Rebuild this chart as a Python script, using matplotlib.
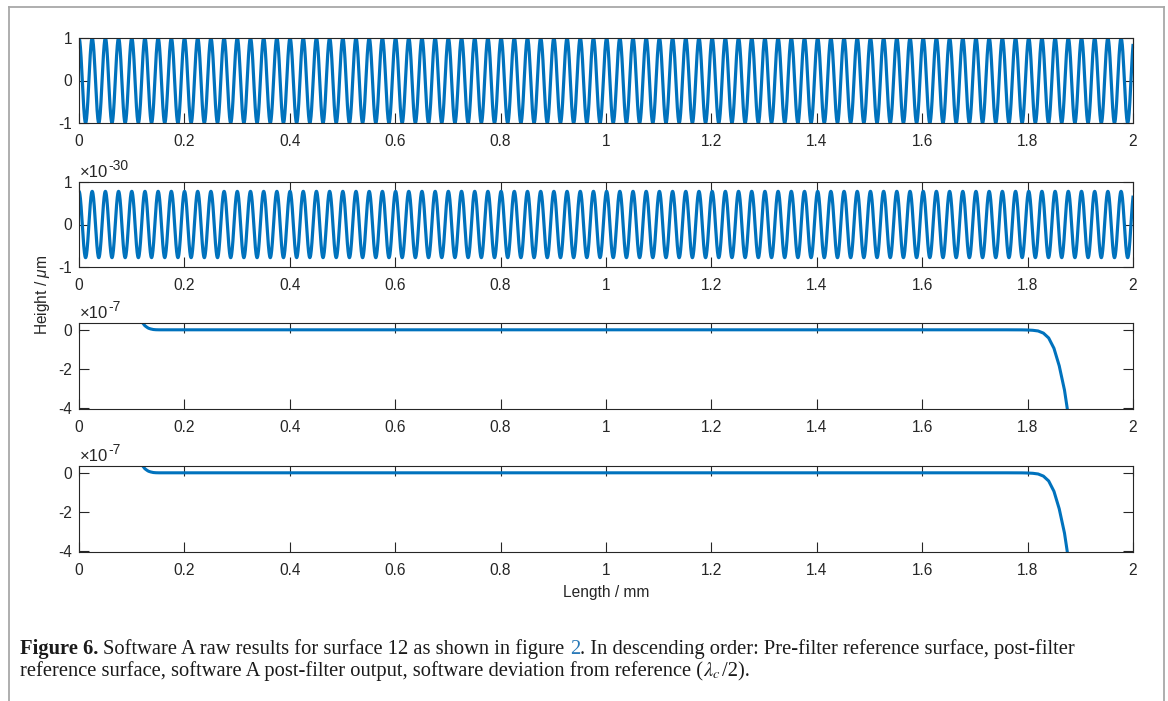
import numpy as np
import matplotlib
matplotlib.use("Agg")
import matplotlib.pyplot as plt
from matplotlib.lines import Line2D

plt.rcParams['font.family'] = ['Liberation Sans', 'DejaVu Sans']
plt.rcParams['axes.unicode_minus'] = False
plt.rcParams['mathtext.fontset'] = 'custom'
plt.rcParams['mathtext.rm'] = 'Liberation Sans'
plt.rcParams['mathtext.it'] = 'Liberation Sans:italic'
plt.rcParams['mathtext.bf'] = 'Liberation Sans:bold'

# ---------------- data ----------------
# reference surface (sinusoid) parameters
length_mm = 2.0
wavelength_mm = 0.02503
pre_filter_amplitude = 1.0          # um
post_filter_amplitude = 0.78e-30    # um

# software A post-filter output (um)
output_x = [0.110, 0.116, 0.121, 0.125, 0.129, 0.132, 0.136, 0.141, 0.146, 0.152, 0.160,
            0.200, 0.600, 1.000, 1.400, 1.760, 1.790, 1.800, 1.810, 1.820, 1.830,
            1.840, 1.850, 1.860, 1.870, 1.875, 1.880, 1.890]
output_y = [0.90e-7, 0.55e-7, 0.35e-7, 0.21e-7, 0.13e-7, 0.08e-7, 0.045e-7, 0.015e-7, 0.004e-7, 0.0, 0.0,
            0.0, 0.0, 0.0, 0.0, 0.0, -0.003e-7, -0.01e-7, -0.025e-7, -0.06e-7, -0.17e-7,
            -0.42e-7, -0.95e-7, -1.85e-7, -3.10e-7, -4.00e-7, -5.00e-7, -7.0e-7]
# software deviation from reference (um)
deviation_x = list(output_x)
deviation_y = list(output_y)

xticks = [0, 0.2, 0.4, 0.6, 0.8, 1, 1.2, 1.4, 1.6, 1.8, 2]
xticklabels = ['0', '0.2', '0.4', '0.6', '0.8', '1', '1.2', '1.4', '1.6', '1.8', '2']

# ---------------- figure ----------------
W, H = 1168, 701
fig = plt.figure(figsize=(W / 100, H / 100), dpi=100)
fig.patch.set_facecolor('white')
renderer = fig.canvas.get_renderer()

def px_axes(left, top, right, bottom):
    return fig.add_axes([left / W, 1 - bottom / H, (right - left) / W, (bottom - top) / H])

BLUE = '#0072BD'
DARK = '#262626'

def style(ax, yticks, ylabels, ylim):
    ax.set_xlim(0, 2)
    ax.set_ylim(*ylim)
    ax.set_xticks(xticks)
    ax.set_xticklabels(xticklabels)
    ax.set_yticks(yticks)
    ax.set_yticklabels(ylabels)
    ax.tick_params(direction='in', length=7.3, width=0.8, color=DARK, labelcolor=DARK,
                   top=True, right=True, labelsize=11.2)
    ax.tick_params(axis='x', pad=8)
    ax.tick_params(axis='y', pad=5)
    for s in ax.spines.values():
        s.set_color(DARK)
        s.set_linewidth(0.8)

def exponent(top_px, label):
    t1 = fig.text(80 / W, 1 - (top_px - 5) / H, '\u00d710', fontsize=12, color=DARK,
                  ha='left', va='baseline')
    w = t1.get_window_extent(renderer).width
    fig.text((80 + w) / W, 1 - (top_px - 12) / H, label, fontsize=10, color=DARK,
             ha='left', va='baseline')

x = np.linspace(0, length_mm, 6001)

ax1 = px_axes(79, 38, 1133, 123)
ax1.plot(x, pre_filter_amplitude * np.cos(2 * np.pi * x / wavelength_mm), color=BLUE, lw=2.3)
style(ax1, [-1, 0, 1], ['-1', '0', '1'], (-1, 1))

ax2 = px_axes(79, 182, 1133, 267)
scale2 = 1e-30
ax2.plot(x, post_filter_amplitude * np.cos(2 * np.pi * x / wavelength_mm) / scale2, color=BLUE, lw=2.3)
style(ax2, [-1, 0, 1], ['-1', '0', '1'], (-1, 1))
exponent(182, '-30')

scale3 = 1e-7
ax3 = px_axes(79, 323, 1133, 409)
ax3.plot(np.array(output_x), np.array(output_y) / scale3, color=BLUE, lw=2.2)
style(ax3, [-4, -2, 0], ['-4', '-2', '0'], (-4.07, 0.35))
exponent(323, '-7')

ax4 = px_axes(79, 466, 1133, 552)
ax4.plot(np.array(deviation_x), np.array(deviation_y) / scale3, color=BLUE, lw=2.2)
style(ax4, [-4, -2, 0], ['-4', '-2', '0'], (-4.07, 0.35))
exponent(466, '-7')

fig.text(606 / W, 1 - 593 / H, 'Length / mm', ha='center', va='center', fontsize=11.2, color=DARK)
fig.text(43 / W, 1 - 295 / H, r'Height / $\mu$m', ha='center', va='center', rotation=90,
         fontsize=11.2, color=DARK)

# outer frame
FRAME = '#a8a8a8'
fig.add_artist(Line2D([9 / W, 9 / W], [0, 1 - 7 / H], transform=fig.transFigure, color=FRAME, lw=1.3))
fig.add_artist(Line2D([9 / W, 1164 / W], [1 - 7 / H, 1 - 7 / H], transform=fig.transFigure, color=FRAME, lw=1.3))
fig.add_artist(Line2D([1164 / W, 1164 / W], [0, 1 - 7 / H], transform=fig.transFigure, color=FRAME, lw=1.3))

# caption
SERIF = ['Liberation Serif', 'DejaVu Serif']

def width_of(s, fs, **kw):
    t = fig.text(0, 0, s, fontsize=fs, family=SERIF, **kw)
    w = t.get_window_extent(renderer).width
    t.remove()
    return w

line1 = [('Figure 6.', dict(weight='bold')), None,
         ('Software A raw results for surface 12 as shown in figure', {}), None,
         ('2', dict(color='#2a7ab8')),
         ('. In descending order: Pre-filter reference surface, post-filter', {})]
line2 = [('reference surface, software A post-filter output, software deviation from reference (', {}),
         (r'$\lambda_c$', dict(math_fontfamily='stix')),
         ('/2).', {})]

def line_width(pieces, fs):
    sp = width_of('x x', fs) - width_of('xx', fs)
    w = 0
    for p in pieces:
        if p is None:
            w += sp
        else:
            w += width_of(p[0], fs, **p[1])
    return w

fs0 = 12.0
target = 1071 - 20
fs = fs0 * target / line_width(line1, fs0)

def draw_line(pieces, x0, ybase, fs):
    sp = width_of('x x', fs) - width_of('xx', fs)
    xx = x0
    for p in pieces:
        if p is None:
            xx += sp
            continue
        s, kw = p
        kw = dict(kw)
        col = kw.pop('color', '#1a1a1a')
        t = fig.text(xx / W, 1 - ybase / H, s, fontsize=fs, family=SERIF, color=col,
                     ha='left', va='baseline', **kw)
        xx += t.get_window_extent(renderer).width + (1 if s.startswith('$') else 0)

draw_line(line1, 20, 654, fs)
draw_line(line2, 20, 676, fs)

fig.savefig('out.png', dpi=100, facecolor='white')
